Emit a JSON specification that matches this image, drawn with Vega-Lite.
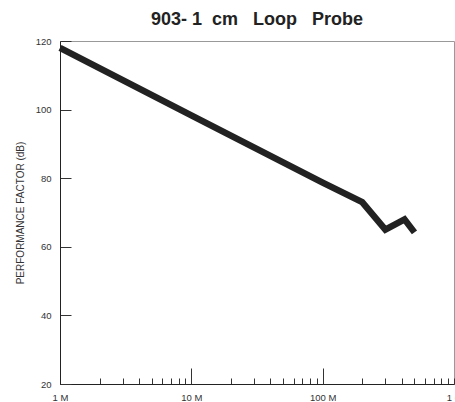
{
  "$schema": "https://vega.github.io/schema/vega-lite/v6.json",
  "autosize": "none",
  "width": 394,
  "height": 343,
  "padding": {"left": 60, "top": 41, "right": 1, "bottom": 18},
  "background": "white",
  "config": {
    "font": "Liberation Sans",
    "view": {"stroke": "#999", "strokeWidth": 1},
    "axis": {"domainColor": "#222", "tickColor": "#333", "labelColor": "#333", "titleColor": "#333", "grid": false}
  },
  "title": {"text": "903-\u00a01\u00a0\u00a0cm\u00a0\u00a0\u00a0Loop\u00a0\u00a0\u00a0Probe", "fontSize": 18, "fontWeight": "bold", "font": "Liberation Sans", "color": "#222", "offset": 6},
  "data": {"values": [
    {"f": 1, "pf": 118},
    {"f": 10, "pf": 98.3},
    {"f": 100, "pf": 78.7},
    {"f": 200, "pf": 73},
    {"f": 300, "pf": 65},
    {"f": 420, "pf": 68},
    {"f": 500, "pf": 64.2}
  ]},
  "resolve": {"axis": {"x": "independent"}},
  "layer": [
    {
      "mark": {"type": "line", "color": "#222", "strokeWidth": 6.5, "strokeJoin": "miter", "strokeCap": "butt"},
      "encoding": {
        "x": {"field": "f", "type": "quantitative", "scale": {"type": "log", "domain": [1, 1000], "nice": false},
          "axis": {"title": null, "orient": "bottom", "values": [1,2,3,4,5,6,7,8,9,10,20,30,40,50,60,70,80,90,100,200,300,400,500,600,700,800,900,1000],
            "labelExpr": "datum.value==1?'1 M':datum.value==10?'10 M':datum.value==100?'100 M':datum.value==1000?'1 G':''",
            "tickSize": -6, "labelPadding": 14, "labelFontSize": 9.5, "labelFlush": false, "labelOverlap": false}},
        "y": {"field": "pf", "type": "quantitative", "scale": {"domain": [20, 120], "nice": false, "zero": false},
          "axis": {"title": "PERFORMANCE FACTOR (dB)", "titleFontSize": 10, "titleFontWeight": "normal", "titlePadding": 10,
            "values": [20,30,40,50,60,70,80,90,100,110,120],
            "labelExpr": "datum.value % 20 == 0 ? datum.label : ''",
            "tickSize": -11, "labelPadding": 20, "labelFontSize": 9.5}}
      }
    },
    {
      "mark": {"type": "line", "opacity": 0},
      "encoding": {
        "x": {"field": "f", "type": "quantitative",
          "axis": {"title": null, "orient": "bottom", "values": [10, 100], "labels": false, "domain": false, "tickSize": -16}},
        "y": {"field": "pf", "type": "quantitative"}
      }
    }
  ]
}
